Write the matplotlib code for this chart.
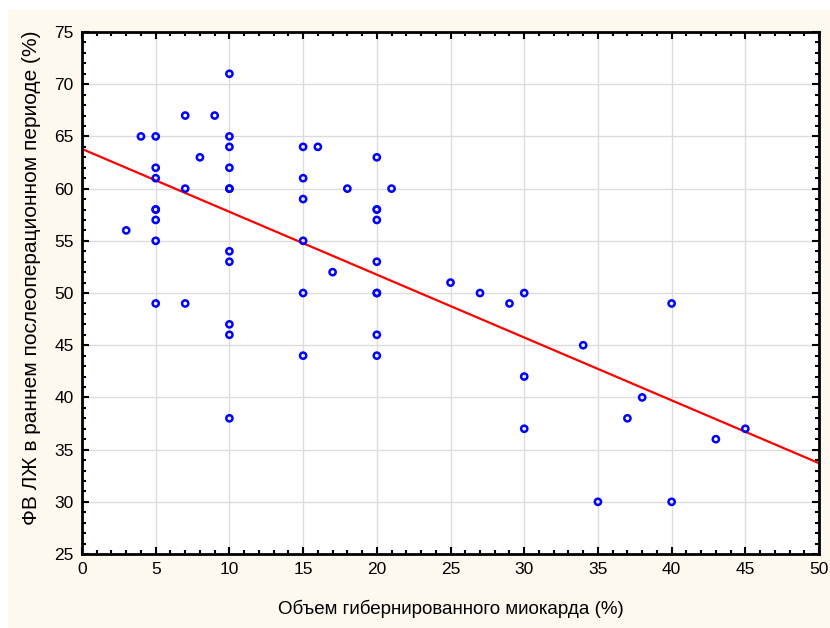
import matplotlib.pyplot as plt
from matplotlib.patches import Rectangle
from matplotlib.ticker import MultipleLocator

# volume of hibernated myocardium (%) vs early postoperative LV EF (%)
hib_volume = [3, 4, 5, 5, 5, 5, 5, 5, 5, 5,
              7, 7, 7, 8, 9,
              10, 10, 10, 10, 10, 10, 10, 10, 10, 10, 10,
              15, 15, 15, 15, 15, 15, 16, 17, 18,
              20, 20, 20, 20, 20, 20, 20, 20, 20, 21,
              25, 27, 29, 30, 30, 30, 34, 35, 37, 38, 40, 40, 43, 45]
lv_ef = [56, 65, 65, 62, 61, 58, 58, 57, 55, 49,
         67, 60, 49, 63, 67,
         71, 65, 64, 62, 60, 60, 54, 53, 47, 46, 38,
         64, 61, 59, 55, 50, 44, 64, 52, 60,
         63, 58, 58, 57, 53, 50, 50, 46, 44, 60,
         51, 50, 49, 50, 42, 37, 45, 30, 38, 40, 49, 30, 36, 37]

# regression line end points
fit_x = [0, 50]
fit_y = [63.8, 33.7]

plt.rcParams['font.family'] = ['Liberation Sans', 'DejaVu Sans']

fig = plt.figure(figsize=(8.3, 6.28), dpi=100)
fig.patch.set_facecolor("white")
fig.patches.append(Rectangle((8 / 830, 0), 1, 618 / 628, transform=fig.transFigure,
                             facecolor="#fef9ee", edgecolor="none", zorder=-10))

ax = fig.add_axes([0.0988, 0.1178, 0.888, 0.8312])
ax.set_facecolor("white")

ax.plot(fit_x, fit_y, color="red", lw=1.6, zorder=2)
ax.scatter(hib_volume, lv_ef, s=20, facecolors="none", edgecolors="#0000ff",
           linewidths=1.8, zorder=3)

ax.set_xlim(0, 50)
ax.set_ylim(25, 75)
ax.xaxis.set_major_locator(MultipleLocator(5))
ax.yaxis.set_major_locator(MultipleLocator(5))
ax.xaxis.set_minor_locator(MultipleLocator(1))
ax.yaxis.set_minor_locator(MultipleLocator(1))
ax.grid(True, which="major", color="#dcdcdc", lw=1, zorder=0)
ax.set_axisbelow(True)

ax.tick_params(which="both", direction="in", top=True, right=True, labelsize=12.5,
               width=1.5, color="black")
ax.tick_params(which="major", length=5, pad=6)
ax.tick_params(which="minor", length=3)
for sp in ax.spines.values():
    sp.set_linewidth(2)

ax.set_xlabel("Объем гибернированного миокарда (%)", fontsize=13.5, labelpad=16)
ax.set_ylabel("ФВ ЛЖ в раннем послеоперационном периоде (%)", fontsize=15)
ax.yaxis.set_label_coords(-0.055, 0.53)

fig.savefig("out.png", dpi=100, facecolor=fig.get_facecolor())
